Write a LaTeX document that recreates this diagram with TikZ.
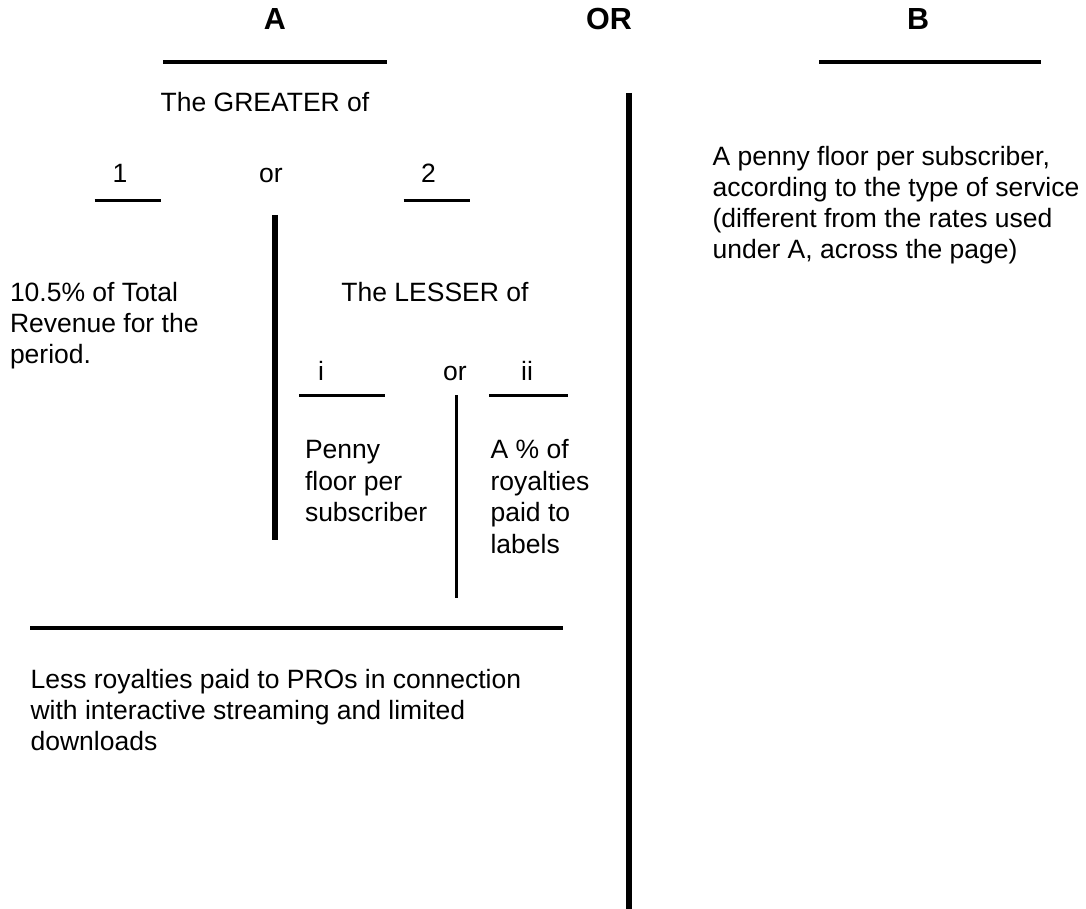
\documentclass[tikz,border=0pt]{standalone}
\usepackage{fontspec}
\setmainfont{Liberation Sans}
\begin{document}
\begin{tikzpicture}[x=1pt,y=-1pt,
  every node/.style={inner sep=0pt, outer sep=0pt},
  txt/.style={font=\fontsize{26.5}{31}\selectfont},
  blk/.style={font=\fontsize{26.5}{31}\selectfont, align=left, anchor=north west},
  blkb/.style={font=\fontsize{26.5}{31.7}\selectfont, align=left, anchor=north west},
  head/.style={font=\fontsize{30.5}{34}\selectfont\bfseries, anchor=base},
  rule/.style={line width=3.3pt},
  thickv/.style={line width=5.6pt},
  thinv/.style={line width=2.6pt}]
\useasboundingbox (0,0) rectangle (1086,909);
% headings
\node[head] (hA) at (275,29.3) {A};
\node[head] (hOR) at (609,29.3) {OR};
\node[head] (hB) at (918,29.3) {B};
\draw[rule] (163,62) -- (387,62);
\draw[rule] (819,62) -- (1041,62);
% main divider
\draw[thickv] (629,93) -- (629,909);
% A side
\node[txt, anchor=base] (greater) at (265,111.7) {The GREATER of};
\node[txt, anchor=base] (n1) at (120,183) {1};
\node[txt, anchor=base] (or1) at (271,183) {or};
\node[txt, anchor=base] (n2) at (428.6,183) {2};
\draw[rule] (94.5,200.7) -- (160.7,200.7);
\draw[rule] (403.7,200.7) -- (470,200.7);
\draw[thickv] (275,215) -- (275,540);
\node[blk] (rev) at (10,280) {\strut 10.5\% of Total\\Revenue for the\\period.};
\node[txt, anchor=base] (lesser) at (435,301.7) {The LESSER of};
\node[txt, anchor=base] (ni) at (321,380) {i};
\node[txt, anchor=base] (or2) at (455,380) {or};
\node[txt, anchor=base] (nii) at (527,380) {ii};
\draw[line width=3pt] (299,395.5) -- (385,395.5);
\draw[line width=3pt] (489,395.5) -- (568,395.5);
\draw[thinv] (456.6,395) -- (456.6,598);
\node[blkb] (penny) at (305,436.3) {\strut Penny\\floor per\\subscriber};
\node[blkb] (pct) at (490.6,436.3) {\strut A \% of\\royalties\\paid to\\labels};
\draw[line width=4pt] (30,628) -- (563,628);
\node[blk] (less) at (30.6,666.3) {\strut Less royalties paid to PROs in connection\\with interactive streaming and limited\\downloads};
% B side
\node[blk] (btext) at (712.6,144) {\strut A penny floor per subscriber,\\according to the type of service\\(different from the rates used\\under A, across the page)};
\end{tikzpicture}
\end{document}
